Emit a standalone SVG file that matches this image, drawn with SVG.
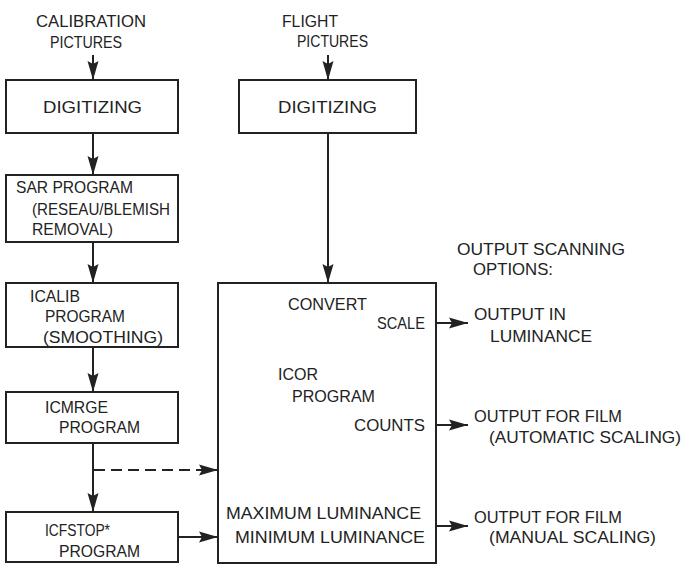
<svg xmlns="http://www.w3.org/2000/svg" width="682" height="564" viewBox="0 0 682 564">
<style>
.box{fill:none;stroke:#222;stroke-width:2}
.ln{fill:none;stroke:#222;stroke-width:2}
.dash{stroke-dasharray:11 6}
text{font-family:"Liberation Sans",Arial,sans-serif;font-size:16.5px;fill:#222}
</style>
<defs>
<marker id="ah" markerUnits="userSpaceOnUse" markerWidth="20" markerHeight="12" refX="19" refY="6" orient="auto">
<path d="M0,0.5 L19,6 L0,11.5 L3,6 z" fill="#222"/>
</marker>
</defs>
<rect width="682" height="564" fill="#fff"/>
<g id="cal-label">
<text x="36" y="27" textLength="110" lengthAdjust="spacingAndGlyphs">CALIBRATION</text>
<text x="50" y="48" textLength="72" lengthAdjust="spacingAndGlyphs">PICTURES</text>
</g>
<g id="flight-label">
<text x="282" y="27" textLength="56" lengthAdjust="spacingAndGlyphs">FLIGHT</text>
<text x="297" y="47" textLength="71" lengthAdjust="spacingAndGlyphs">PICTURES</text>
</g>
<g id="dig1">
<rect class="box" x="6" y="80" width="172" height="53"/>
<text x="43" y="113" textLength="99" lengthAdjust="spacingAndGlyphs">DIGITIZING</text>
</g>
<g id="dig2">
<rect class="box" x="239" y="80" width="177" height="53"/>
<text x="278" y="113" textLength="99" lengthAdjust="spacingAndGlyphs">DIGITIZING</text>
</g>
<g id="sar">
<rect class="box" x="6" y="175" width="172" height="67"/>
<text x="16" y="193" textLength="117" lengthAdjust="spacingAndGlyphs">SAR PROGRAM</text>
<text x="32" y="215" textLength="138" lengthAdjust="spacingAndGlyphs">(RESEAU/BLEMISH</text>
<text x="32" y="235" textLength="81" lengthAdjust="spacingAndGlyphs">REMOVAL)</text>
</g>
<g id="icalib">
<rect class="box" x="6" y="283" width="172" height="64"/>
<text x="30" y="302" textLength="50" lengthAdjust="spacingAndGlyphs">ICALIB</text>
<text x="45" y="322" textLength="80" lengthAdjust="spacingAndGlyphs">PROGRAM</text>
<text x="43" y="343" textLength="120" lengthAdjust="spacingAndGlyphs">(SMOOTHING)</text>
</g>
<g id="icmrge">
<rect class="box" x="6" y="392" width="172" height="51"/>
<text x="45" y="413" textLength="63" lengthAdjust="spacingAndGlyphs">ICMRGE</text>
<text x="59" y="433" textLength="81" lengthAdjust="spacingAndGlyphs">PROGRAM</text>
</g>
<g id="icfstop">
<rect class="box" x="6" y="512" width="172" height="50"/>
<text x="45" y="536" textLength="65" lengthAdjust="spacingAndGlyphs">ICFSTOP*</text>
<text x="59" y="557" textLength="81" lengthAdjust="spacingAndGlyphs">PROGRAM</text>
</g>
<g id="icor">
<rect class="box" x="218" y="283" width="218" height="280"/>
<text x="288" y="310" textLength="79" lengthAdjust="spacingAndGlyphs">CONVERT</text>
<text x="377" y="329" textLength="48" lengthAdjust="spacingAndGlyphs">SCALE</text>
<text x="278" y="380" textLength="40" lengthAdjust="spacingAndGlyphs">ICOR</text>
<text x="292" y="402" textLength="83" lengthAdjust="spacingAndGlyphs">PROGRAM</text>
<text x="354" y="431" textLength="71" lengthAdjust="spacingAndGlyphs">COUNTS</text>
<text x="226" y="519" textLength="195" lengthAdjust="spacingAndGlyphs">MAXIMUM LUMINANCE</text>
<text x="235" y="543" textLength="190" lengthAdjust="spacingAndGlyphs">MINIMUM LUMINANCE</text>
</g>
<g id="options-label">
<text x="457" y="255" textLength="168" lengthAdjust="spacingAndGlyphs">OUTPUT SCANNING</text>
<text x="473" y="275" textLength="80" lengthAdjust="spacingAndGlyphs">OPTIONS:</text>
</g>
<g id="out1">
<text x="474" y="320" textLength="92" lengthAdjust="spacingAndGlyphs">OUTPUT IN</text>
<text x="490" y="342" textLength="102" lengthAdjust="spacingAndGlyphs">LUMINANCE</text>
</g>
<g id="out2">
<text x="474" y="422" textLength="148" lengthAdjust="spacingAndGlyphs">OUTPUT FOR FILM</text>
<text x="489" y="443" textLength="192" lengthAdjust="spacingAndGlyphs">(AUTOMATIC SCALING)</text>
</g>
<g id="out3">
<text x="474" y="523" textLength="148" lengthAdjust="spacingAndGlyphs">OUTPUT FOR FILM</text>
<text x="489" y="543" textLength="167" lengthAdjust="spacingAndGlyphs">(MANUAL SCALING)</text>
</g>
<g id="connectors">
<line class="ln" x1="93" y1="55" x2="93" y2="80" marker-end="url(#ah)"/>
<line class="ln" x1="93" y1="133" x2="93" y2="175" marker-end="url(#ah)"/>
<line class="ln" x1="93" y1="242" x2="93" y2="283" marker-end="url(#ah)"/>
<line class="ln" x1="93" y1="347" x2="93" y2="392" marker-end="url(#ah)"/>
<line class="ln" x1="93" y1="443" x2="93" y2="512" marker-end="url(#ah)"/>
<line class="ln dash" x1="94" y1="470" x2="218" y2="470" marker-end="url(#ah)"/>
<line class="ln" x1="178" y1="537" x2="218" y2="537" marker-end="url(#ah)"/>
<line class="ln" x1="328" y1="55" x2="328" y2="80" marker-end="url(#ah)"/>
<line class="ln" x1="328" y1="133" x2="328" y2="283" marker-end="url(#ah)"/>
<line class="ln" x1="436" y1="323" x2="468" y2="323" marker-end="url(#ah)"/>
<line class="ln" x1="436" y1="425" x2="468" y2="425" marker-end="url(#ah)"/>
<line class="ln" x1="436" y1="526" x2="468" y2="526" marker-end="url(#ah)"/>
</g>
</svg>
